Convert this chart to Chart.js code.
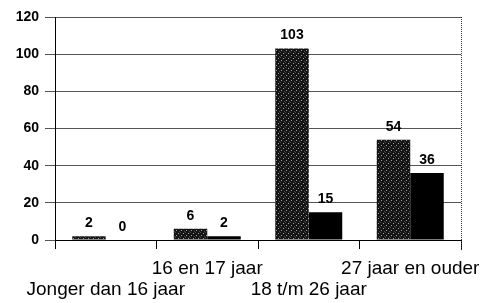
<!DOCTYPE html>
<html>
<head>
<meta charset="utf-8">
<script src="https://cdn.jsdelivr.net/npm/chart.js@4"></script>
<style>
  html, body { margin: 0; padding: 0; background: #fff; }
</style>
</head>
<body>
<canvas id="grafiek" width="481" height="303"></canvas>
<script>
// categorieën en waarden
const categorieen = [
    ['', 'Jonger dan 16 jaar'],
    ['16 en 17 jaar', ''],
    ['', '18 t/m 26 jaar'],
    ['27 jaar en ouder', '']
];
const reeksA = [2, 6, 103, 54];
const reeksB = [0, 2, 15, 36];
const yTicks = [0, 20, 40, 60, 80, 100, 120];

// gespikkeld patroon voor de eerste reeks
function maakPatroon() {
    const c = document.createElement('canvas');
    c.width = 5; c.height = 5;
    const g = c.getContext('2d');
    g.fillStyle = '#141414';
    g.fillRect(0, 0, 5, 5);
    g.fillStyle = '#a0a0a0';
    g.fillRect(1, 0, 1, 1);
    g.fillRect(3, 3, 1, 1);
    g.fillStyle = '#4a4a4a';
    g.fillRect(0, 2, 1, 1);
    g.fillRect(4, 1, 1, 1);
    return g.createPattern(c, 'repeat');
}

// waarden boven de staven
const labelsPlugin = {
    id: 'waardeLabels',
    afterDatasetsDraw(chart) {
        const ctx = chart.ctx;
        ctx.save();
        ctx.fillStyle = '#000';
        ctx.font = 'bold 14px "Liberation Sans", Arial, sans-serif';
        ctx.textAlign = 'center';
        ctx.textBaseline = 'bottom';
        chart.data.datasets.forEach((ds, i) => {
            chart.getDatasetMeta(i).data.forEach((bar, j) => {
                ctx.fillText(String(ds.data[j]), bar.x, bar.y - 6);
            });
        });
        ctx.restore();
    }
};

// gestippelde rechterrand
const randPlugin = {
    id: 'rechterRand',
    afterDraw(chart) {
        const a = chart.chartArea;
        const ctx = chart.ctx;
        ctx.save();
        ctx.strokeStyle = '#333';
        ctx.lineWidth = 1;
        ctx.setLineDash([1, 1]);
        ctx.beginPath();
        ctx.moveTo(Math.round(a.right) + 0.5, a.top);
        ctx.lineTo(Math.round(a.right) + 0.5, a.bottom + 10);
        ctx.stroke();
        ctx.restore();
    }
};

new Chart(document.getElementById('grafiek'), {
    type: 'bar',
    data: {
        labels: categorieen,
        datasets: [
            { data: reeksA, backgroundColor: maakPatroon(), borderWidth: 0 },
            { data: reeksB, backgroundColor: '#000', borderWidth: 0 }
        ]
    },
    options: {
        responsive: false,
        animation: false,
        layout: { padding: { top: 17, right: 20, left: 0, bottom: 0 } },
        datasets: { bar: { categoryPercentage: 0.66, barPercentage: 1 } },
        plugins: { legend: { display: false }, tooltip: { enabled: false } },
        scales: {
            x: {
                grid: { drawOnChartArea: false, drawTicks: true, tickLength: 9, color: '#000', offset: true },
                border: { color: '#000' },
                ticks: {
                    color: '#000',
                    padding: 9,
                    maxRotation: 0,
                    autoSkip: false,
                    font: { family: '"Liberation Sans", Arial, sans-serif', size: 19, lineHeight: 1.1 }
                },
                afterFit(scale) {
                    scale.height = 63;
                    scale.paddingLeft = 0;
                    scale.paddingRight = 0;
                }
            },
            y: {
                min: 0,
                max: 120,
                afterBuildTicks(scale) { scale.ticks = yTicks.map(v => ({ value: v })); },
                grid: { color: '#555', tickLength: 10, drawTicks: true },
                border: { color: '#000' },
                ticks: {
                    color: '#000',
                    padding: 6,
                    font: { family: '"Liberation Sans", Arial, sans-serif', size: 14, weight: 'bold' }
                },
                afterFit(scale) { scale.width = 55; }
            }
        }
    },
    plugins: [labelsPlugin, randPlugin]
});
</script>
</body>
</html>
